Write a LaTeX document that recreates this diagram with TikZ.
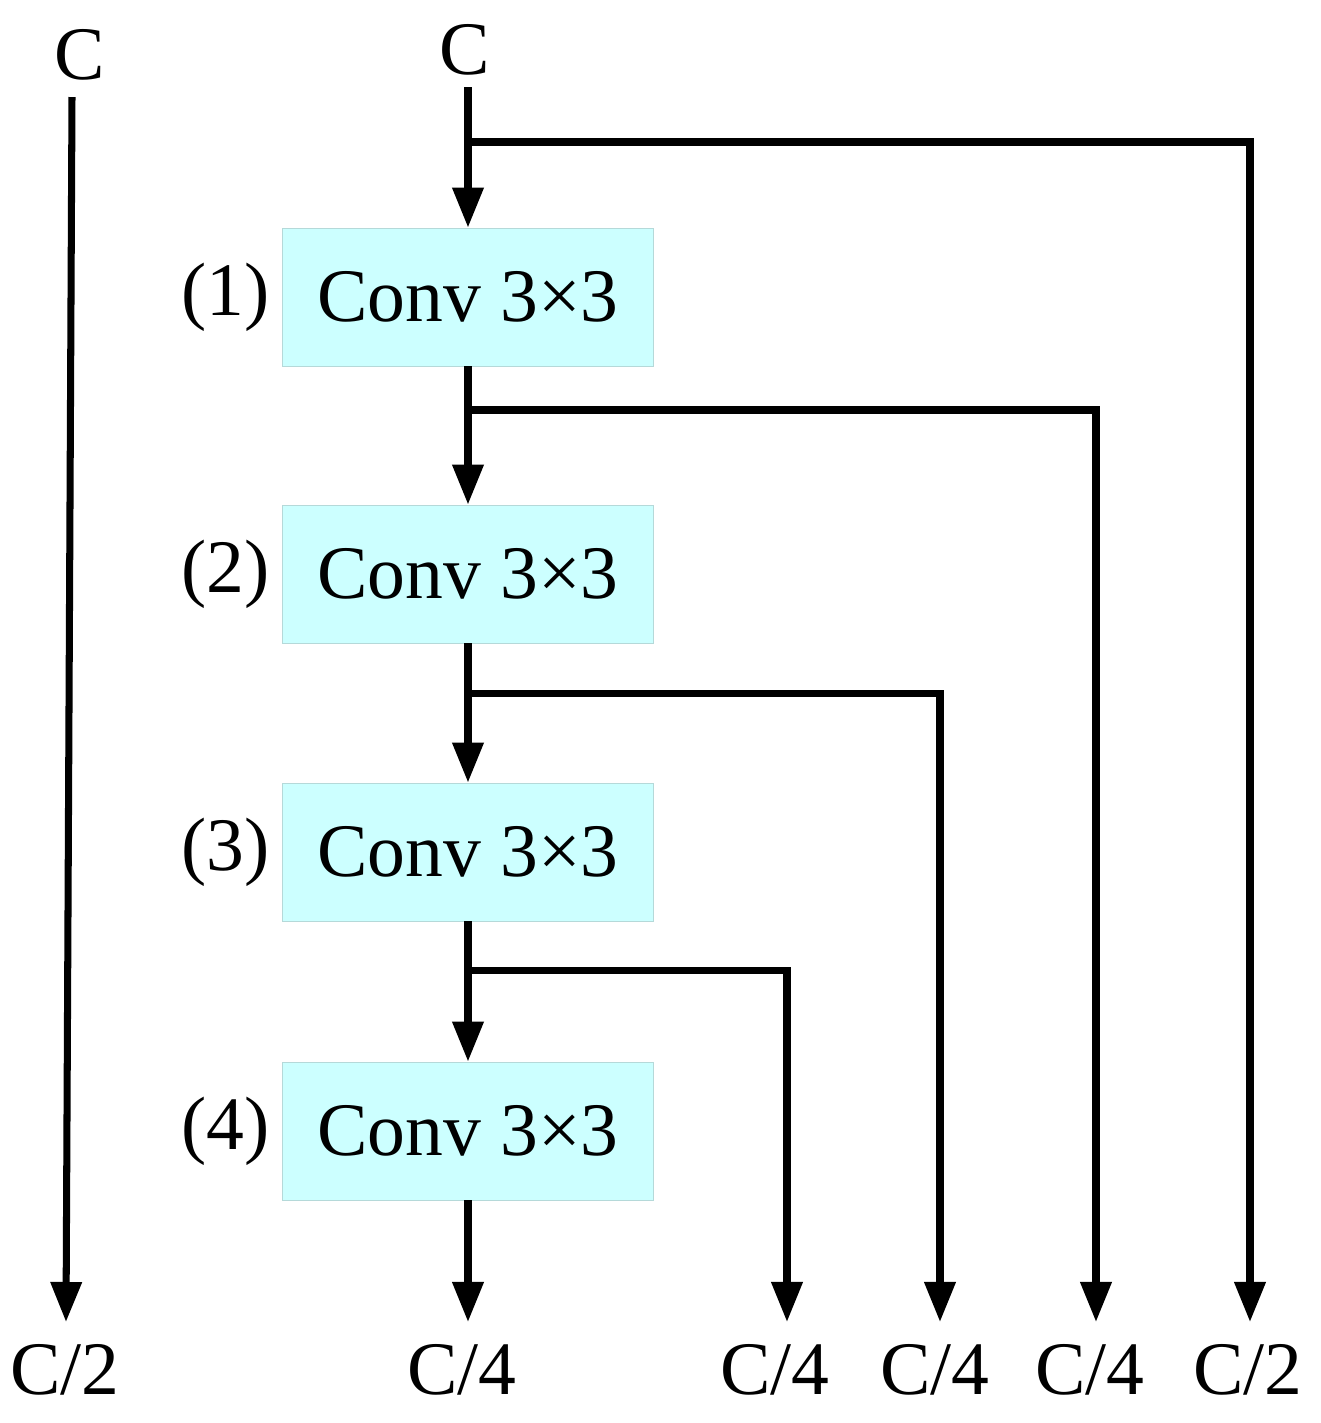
\documentclass[tikz,border=0pt]{standalone}
\usepackage{fontspec}
\setmainfont{Liberation Serif}
\usepackage{tikz}
\usetikzlibrary{arrows.meta,positioning}
\definecolor{convcyan}{HTML}{CCFFFF}
\begin{document}
\begin{tikzpicture}[
        x=0.01cm, y=-0.01cm,
        conv/.style={
            rectangle, draw=convcyan!70!gray, very thin, fill=convcyan,
            minimum width=3.71cm, minimum height=1.38cm,
            text centered, font=\fontsize{21.5}{24}\selectfont
        },
        lbl/.style={font=\fontsize{21.5}{24}\selectfont, inner sep=0pt},
        arrow/.style={-{Triangle[length=0.4cm,width=0.3cm]}, line width=2pt},
        line/.style={line width=2pt},
    ]
    \useasboundingbox (0,0) rectangle (1321,1423);

    % -- Inputs --
    \node[lbl] (inL) at (80,55) {C};
    \node[lbl] (inM) at (465,50) {C};

    % -- Conv blocks --
    \node[conv] (conv1) at (468,297) {Conv 3×3};
    \node[conv] (conv2) at (468,574) {Conv 3×3};
    \node[conv] (conv3) at (468,852) {Conv 3×3};
    \node[conv] (conv4) at (468,1131) {Conv 3×3};
    \node[lbl, left=0.12cm of conv1] {(1)};
    \node[lbl, left=0.12cm of conv2] {(2)};
    \node[lbl, left=0.12cm of conv3] {(3)};
    \node[lbl, left=0.12cm of conv4] {(4)};

    % -- Outputs --
    \node[lbl] (outA) at (65,1370) {C/2};
    \node[lbl] (outB) at (462,1370) {C/4};
    \node[lbl] (outC) at (775,1370) {C/4};
    \node[lbl] (outD) at (935,1370) {C/4};
    \node[lbl] (outE) at (1090,1370) {C/4};
    \node[lbl] (outF) at (1248,1370) {C/2};

    % -- Branch points --
    \coordinate (b0) at (468,142);
    \coordinate (b1) at (468,410);
    \coordinate (b2) at (468,693);
    \coordinate (b3) at (468,970);

    % -- Arrows --
    \draw[arrow] (72,97) -- (66,1322);
    \draw[line] (468,87) -- (b0);
    \draw[arrow] (b0) -- (conv1);
    \draw[line] (conv1) -- (b1);
    \draw[arrow] (b1) -- (conv2);
    \draw[line] (conv2) -- (b2);
    \draw[arrow] (b2) -- (conv3);
    \draw[line] (conv3) -- (b3);
    \draw[arrow] (b3) -- (conv4);
    \draw[arrow] (conv4) -- (468,1322);
    \draw[arrow] (b0) -| (1250,1322);
    \draw[arrow] (b1) -| (1096,1322);
    \draw[arrow] (b2) -| (940,1322);
    \draw[arrow] (b3) -| (787,1322);
\end{tikzpicture}
\end{document}
